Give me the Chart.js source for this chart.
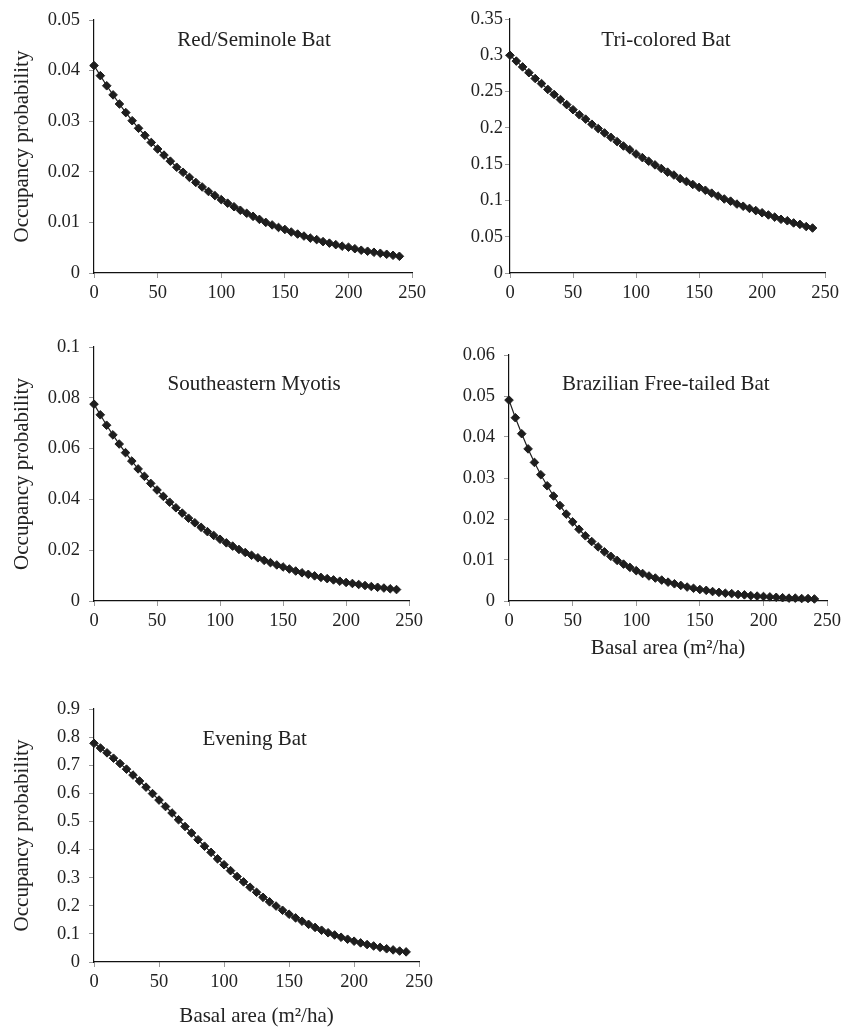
<!DOCTYPE html>
<html>
<head>
<meta charset="utf-8">
<script src="https://cdn.jsdelivr.net/npm/chart.js@4/dist/chart.umd.min.js"></script>
<style>
  html, body { margin: 0; padding: 0; background: #fff; width: 845px; height: 1027px; overflow: hidden; }
  canvas { position: absolute; }
</style>
</head>
<body>
<canvas id="c1"></canvas>
<canvas id="c2"></canvas>
<canvas id="c3"></canvas>
<canvas id="c4"></canvas>
<canvas id="c5"></canvas>
<script>
// ---- Data ----
const basalArea = [0,5,10,15,20,25,30,35,40,45,50,55,60,65,70,75,80,85,90,95,100,105,110,115,120,125,130,135,140,145,150,155,160,165,170,175,180,185,190,195,200,205,210,215,220,225,230,235,240];

const redSeminole = [0.0410,0.0390,0.0370,0.0352,0.0334,0.0317,0.0301,0.0286,0.0272,0.0258,0.0245,0.0233,0.0221,0.0209,0.0199,0.0189,0.0179,0.0170,0.0161,0.0153,0.0145,0.0138,0.0131,0.0124,0.0118,0.0112,0.0106,0.0100,0.0095,0.0090,0.0086,0.0081,0.0077,0.0073,0.0069,0.0066,0.0062,0.0059,0.0056,0.0053,0.0051,0.0048,0.0045,0.0043,0.0041,0.0039,0.0037,0.0035,0.0033];

const triColored = [0.300,0.292,0.284,0.276,0.268,0.261,0.253,0.246,0.239,0.232,0.225,0.218,0.212,0.205,0.199,0.193,0.187,0.181,0.175,0.170,0.164,0.159,0.154,0.149,0.144,0.139,0.135,0.130,0.126,0.122,0.118,0.114,0.110,0.106,0.102,0.099,0.095,0.092,0.089,0.086,0.083,0.080,0.077,0.074,0.072,0.069,0.067,0.064,0.062];

const seMyotis = [0.0775,0.0733,0.0692,0.0654,0.0618,0.0584,0.0551,0.0520,0.0491,0.0463,0.0437,0.0412,0.0389,0.0367,0.0346,0.0326,0.0308,0.0290,0.0273,0.0258,0.0243,0.0229,0.0216,0.0203,0.0191,0.0180,0.0170,0.0160,0.0151,0.0142,0.0134,0.0126,0.0118,0.0111,0.0105,0.0099,0.0093,0.0088,0.0083,0.0078,0.0073,0.0069,0.0065,0.0061,0.0057,0.0054,0.0051,0.0048,0.0045];

const brazilianFreeTailed = [0.0490,0.0447,0.0408,0.0371,0.0338,0.0308,0.0281,0.0256,0.0233,0.0212,0.0193,0.0175,0.0159,0.0145,0.0132,0.0120,0.0109,0.0099,0.0090,0.0082,0.0074,0.0067,0.0061,0.0056,0.0051,0.0046,0.0042,0.0038,0.0034,0.0031,0.0028,0.0026,0.0023,0.0021,0.0019,0.0018,0.0016,0.0015,0.0013,0.0012,0.0011,0.0010,0.0009,0.0008,0.0007,0.0007,0.0006,0.0006,0.0005];

const eveningBat = [0.778,0.761,0.744,0.725,0.706,0.686,0.665,0.644,0.622,0.599,0.576,0.553,0.530,0.506,0.482,0.459,0.435,0.412,0.390,0.367,0.346,0.325,0.304,0.285,0.266,0.248,0.230,0.214,0.199,0.184,0.170,0.157,0.145,0.134,0.123,0.113,0.104,0.096,0.088,0.081,0.074,0.068,0.062,0.057,0.052,0.047,0.043,0.039,0.036];

const speciesNames = ["Red/Seminole Bat", "Tri-colored Bat", "Southeastern Myotis", "Brazilian Free-tailed Bat", "Evening Bat"];
const yAxisMax = [0.05, 0.35, 0.1, 0.06, 0.9];
const yAxisStep = [0.01, 0.05, 0.02, 0.01, 0.1];
const xAxisMax = 250;
const xAxisStep = 50;
const yTitleText = "Occupancy probability";
const xTitleText = "Basal area (m\u00B2/ha)";

// ---- Layout ----
const INK = '#1e1e1e';
const FONT = '"Liberation Serif", "Times New Roman", serif';
Chart.defaults.font.family = FONT;
Chart.defaults.color = '#222';

const panels = [
  { id: 'c1', data: redSeminole,          plotL: 94,  plotR: 414, plotT: 20,  plotB: 273, yW: 94, xH: 30, yTitle: true,  xTitle: false, tickPad: 9, tf: 0.503, tdy: 20 },
  { id: 'c2', data: triColored,           plotL: 510, plotR: 827, plotT: 19,  plotB: 273, yW: 80, xH: 30, yTitle: false, xTitle: false, tickPad: 2, tf: 0.495, tdy: 21 },
  { id: 'c3', data: seMyotis,             plotL: 94,  plotR: 411, plotT: 347, plotB: 601, yW: 94, xH: 30, yTitle: true,  xTitle: false, tickPad: 9, tf: 0.508, tdy: 37.5 },
  { id: 'c4', data: brazilianFreeTailed,  plotL: 509, plotR: 829, plotT: 355, plotB: 601, yW: 80, xH: 60, yTitle: false, xTitle: true,  tickPad: 9, tf: 0.493, tdy: 29, xtPad: 2.5 },
  { id: 'c5', data: eveningBat,           plotL: 94,  plotR: 421, plotT: 709, plotB: 962, yW: 94, xH: 65, yTitle: true,  xTitle: true,  tickPad: 9, tf: 0.494, tdy: 30, xtPad: 0 }
];
const PT = 24, PR = 16;

const panelTitlePlugin = {
  id: 'panelTitle',
  afterDraw(chart, args, opts) {
    const a = chart.chartArea;
    const ctx = chart.ctx;
    ctx.save();
    ctx.font = '21px ' + FONT;
    ctx.fillStyle = '#222';
    ctx.textAlign = 'center';
    ctx.textBaseline = 'middle';
    ctx.fillText(opts.text, a.left + opts.f * (a.right - a.left), a.top + opts.dy);
    ctx.restore();
  }
};

const fmt = v => String(parseFloat(Number(v).toFixed(4)));

panels.forEach((p, i) => {
  const cv = document.getElementById(p.id);
  const w = p.yW + (p.plotR - p.plotL) + PR;
  const h = PT + (p.plotB - p.plotT) + p.xH;
  cv.width = w; cv.height = h;
  cv.style.width = w + 'px'; cv.style.height = h + 'px';
  cv.style.left = (p.plotL - p.yW) + 'px';
  cv.style.top = (p.plotT - PT) + 'px';

  const points = basalArea.map((x, k) => ({ x: x, y: p.data[k] }));

  new Chart(cv, {
    type: 'line',
    data: {
      datasets: [{
        label: speciesNames[i],
        data: points,
        borderColor: INK,
        borderWidth: 1.2,
        backgroundColor: INK,
        pointStyle: 'rectRot',
        pointRadius: 4.3,
        pointBorderWidth: 1,
        pointBackgroundColor: INK,
        pointBorderColor: INK,
        tension: 0,
        clip: false
      }]
    },
    options: {
      responsive: false,
      animation: false,
      devicePixelRatio: 1,
      layout: { padding: { left: 0, top: PT, right: PR, bottom: 0 } },
      plugins: {
        legend: { display: false },
        tooltip: { enabled: false },
        panelTitle: { text: speciesNames[i], f: p.tf, dy: p.tdy }
      },
      scales: {
        x: {
          type: 'linear',
          min: 0, max: xAxisMax,
          afterFit(s) { s.height = p.xH; },
          ticks: { stepSize: xAxisStep, padding: 4, color: '#222', font: { size: 18.5 }, maxRotation: 0, callback: fmt },
          grid: { drawOnChartArea: false, drawTicks: true, tickLength: 5, color: '#9a9a9a', lineWidth: 1 },
          border: { display: true, color: '#111', width: 1.2 },
          title: { display: p.xTitle, text: xTitleText, color: '#222', font: { size: 21, lineHeight: 1 }, padding: { top: 0, bottom: p.xtPad || 0 } }
        },
        y: {
          type: 'linear',
          min: 0, max: yAxisMax[i],
          afterFit(s) { s.width = p.yW; },
          ticks: { stepSize: yAxisStep[i], padding: p.tickPad, color: '#222', font: { size: 18.5 }, callback: fmt },
          grid: { drawOnChartArea: false, drawTicks: true, tickLength: 5, color: '#9a9a9a', lineWidth: 1 },
          border: { display: true, color: '#111', width: 1.2 },
          title: { display: p.yTitle, text: yTitleText, color: '#222', font: { size: 21, lineHeight: 1 }, padding: { top: 12, bottom: 0 } }
        }
      }
    },
    plugins: [panelTitlePlugin]
  });
});
</script>
</body>
</html>
